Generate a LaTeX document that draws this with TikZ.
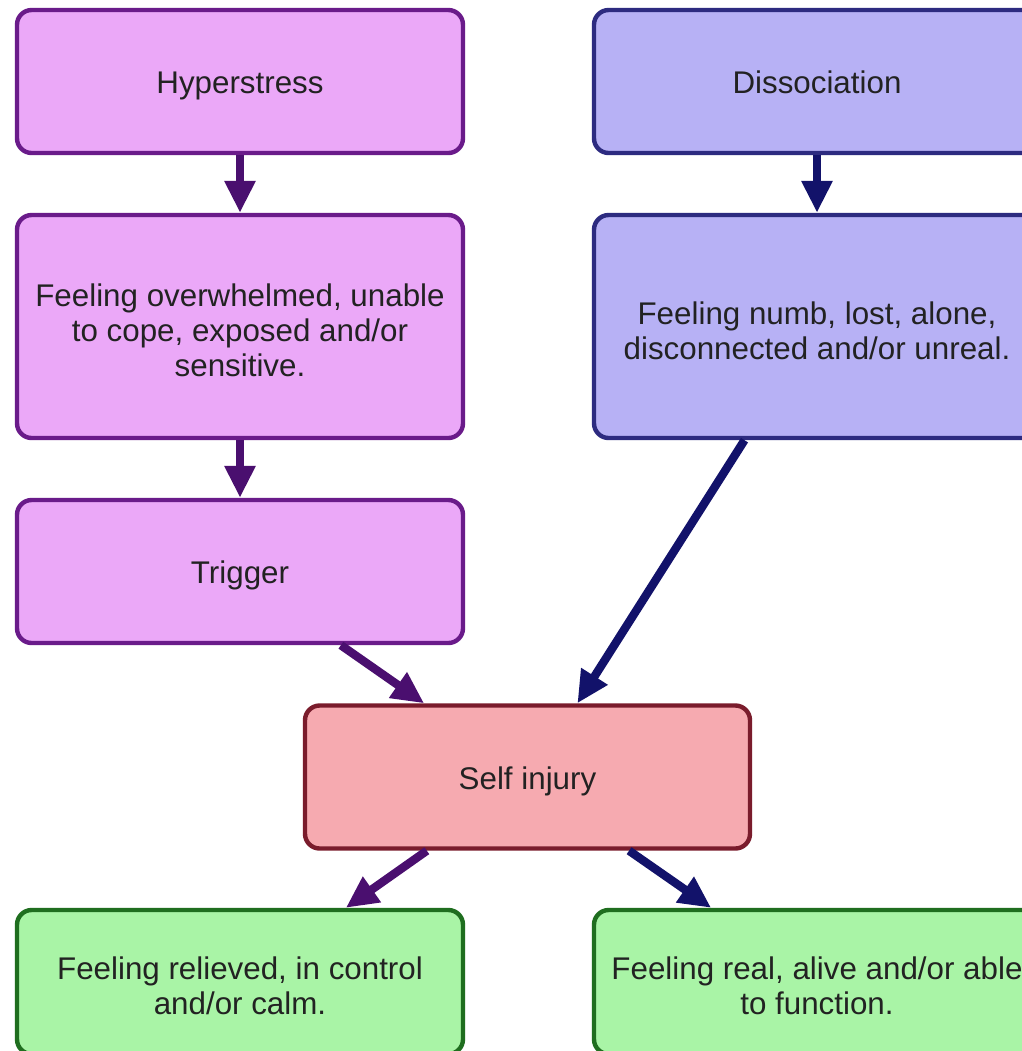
\documentclass[tikz,border=0pt]{standalone}
\usepackage{fontspec}
\setmainfont{Liberation Sans}
\usetikzlibrary{arrows.meta,calc}
\definecolor{pinkfill}{HTML}{EBA8F8}
\definecolor{pinkline}{HTML}{6A1B8A}
\definecolor{bluefill}{HTML}{B7B1F5}
\definecolor{blueline}{HTML}{2D2B80}
\definecolor{redfill}{HTML}{F6AAB0}
\definecolor{redline}{HTML}{7A1C2C}
\definecolor{greenfill}{HTML}{A9F4A6}
\definecolor{greenline}{HTML}{1F6E1F}
\definecolor{purplearrow}{HTML}{4A0F6F}
\definecolor{navyarrow}{HTML}{12126A}
\definecolor{txt}{HTML}{222222}
\newcommand\tpad{\rule[-5pt]{0pt}{28pt}}
\begin{document}
\begin{tikzpicture}[x=0.75pt,y=-0.75pt,
  box/.style={draw, line width=3.3pt, rounded corners=11pt, minimum width=334.5pt,
    align=center, inner sep=0pt, text=txt, font=\fontsize{23.5}{26.25}\selectfont},
  short/.style={box, minimum height=107.25pt},
  tall/.style={box, minimum height=167.25pt},
  pinkbox/.style={fill=pinkfill, draw=pinkline},
  bluebox/.style={fill=bluefill, draw=blueline},
  redbox/.style={fill=redfill, draw=redline},
  greenbox/.style={fill=greenfill, draw=greenline},
  conn/.style={line width=6.3pt, -{Triangle[length=24pt,width=22pt]}},
  parr/.style={conn, draw=purplearrow, fill=purplearrow},
  narr/.style={conn, draw=navyarrow, fill=navyarrow}]
\useasboundingbox (0,0) rectangle (1022,1051);
\clip (0,0) rectangle (1022,1051);
\fill[white] (0,0) rectangle (1022,1051);

\node[short, pinkbox] (hyp) at (240,81.5) {\tpad Hyperstress};
\node[short, bluebox] (dis) at (817,81.5) {\tpad Dissociation};
\node[tall, pinkbox] (ovw) at (240,326.5) {\tpad Feeling overwhelmed, unable\\to cope, exposed and/or\\sensitive.};
\node[tall, bluebox] (numb) at (817,326.5) {\tpad Feeling numb, lost, alone,\\disconnected and/or unreal.};
\node[short, pinkbox] (trig) at (240,571.5) {\tpad Trigger};
\node[short, redbox, minimum width=333.75pt] (self) at (527.5,777) {\tpad Self injury};
\node[box, greenbox, minimum height=108pt] (rel) at (240,982) {\tpad Feeling relieved, in control\\and/or calm.};
\node[box, greenbox, minimum height=108pt] (real) at (817,982) {\tpad Feeling real, alive and/or able\\to function.};

\draw[parr] (hyp.south) -- (ovw.north);
\draw[narr] (dis.south) -- (dis.south |- numb.north);
\draw[parr] (ovw.south) -- (trig.north);
\draw[narr] ($(numb.south west)!0.339!(numb.south east)$) -- ($(self.north west)!0.611!(self.north east)$);
\draw[parr] ($(trig.south west)!0.724!(trig.south east)$) -- ($(self.north west)!0.27!(self.north east)$);
\draw[parr] ($(self.south west)!0.276!(self.south east)$) -- ($(rel.north west)!0.735!(rel.north east)$);
\draw[narr] ($(self.south west)!0.726!(self.south east)$) -- ($(real.north west)!0.265!(real.north east)$);
\end{tikzpicture}
\end{document}
